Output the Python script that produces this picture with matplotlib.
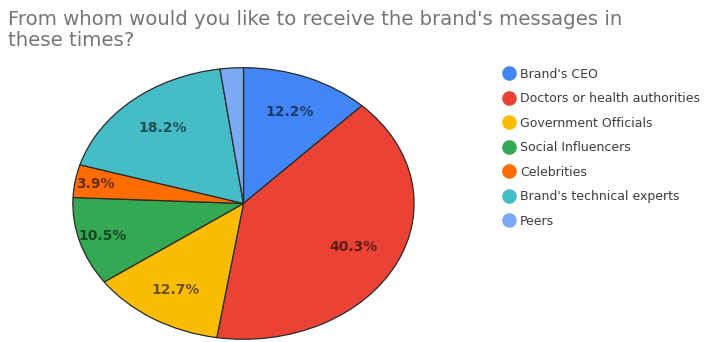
import numpy as np
import matplotlib.pyplot as plt
from matplotlib.colors import to_rgb
from matplotlib.lines import Line2D

# Survey answers (share of respondents, %)
labels = ["Brand's CEO", "Doctors or health authorities", "Government Officials",
          "Social Influencers", "Celebrities", "Brand's technical experts", "Peers"]
shares = [12.2, 40.3, 12.7, 10.5, 3.9, 18.2, 2.2]
colors = ['#4285F4', '#EA4335', '#FBBC04', '#34A853', '#FF6D01', '#46BDC6', '#7BAAF7']

# distance of each percentage label from the centre
label_dist = [0.73, 0.72, 0.75, 0.86, 0.88, 0.73, 0.8]

fig = plt.figure(figsize=(7.13, 3.42), dpi=100)
fig.text(0.011, 0.97, "From whom would you like to receive the brand's messages in\nthese times?",
         ha='left', va='top', fontsize=14.2, color='#757575', linespacing=1.12)

ax = fig.add_axes([0.101, 0.006, 0.481, 0.798])
wedges, texts, autotexts = ax.pie(
    shares, colors=colors, startangle=90, counterclock=False,
    autopct=lambda p: f'{p:.1f}%' if p >= 3 else '',
    wedgeprops=dict(edgecolor='#2a2a2a', linewidth=0.9))

# darker tint of each slice colour for its label, placed along the slice's mid angle
total = sum(shares)
start = 0.0
for w, t, s, d, c in zip(wedges, autotexts, shares, label_dist, colors):
    mid = np.deg2rad(90 - (start + s / 2) / total * 360)
    start += s
    t.set_position((d * np.cos(mid), d * np.sin(mid)))
    t.set_color(tuple(v * 0.42 for v in to_rgb(c)))
    t.set_fontsize(10)
    t.set_fontweight('bold')

ax.set_aspect('auto')
ax.set_xlim(-1.005, 1.005)
ax.set_ylim(-1.005, 1.005)

handles = [Line2D([0], [0], marker='o', linestyle='', markersize=9.5,
                  markerfacecolor=c, markeredgecolor=c) for c in colors]
fig.legend(handles, labels, loc='upper left', bbox_to_anchor=(0.69, 0.835),
           frameon=False, fontsize=9, labelspacing=0.92, handletextpad=0.35,
           handlelength=1.0, labelcolor='#3c3c3c')

fig.savefig('out.png', dpi=100)
